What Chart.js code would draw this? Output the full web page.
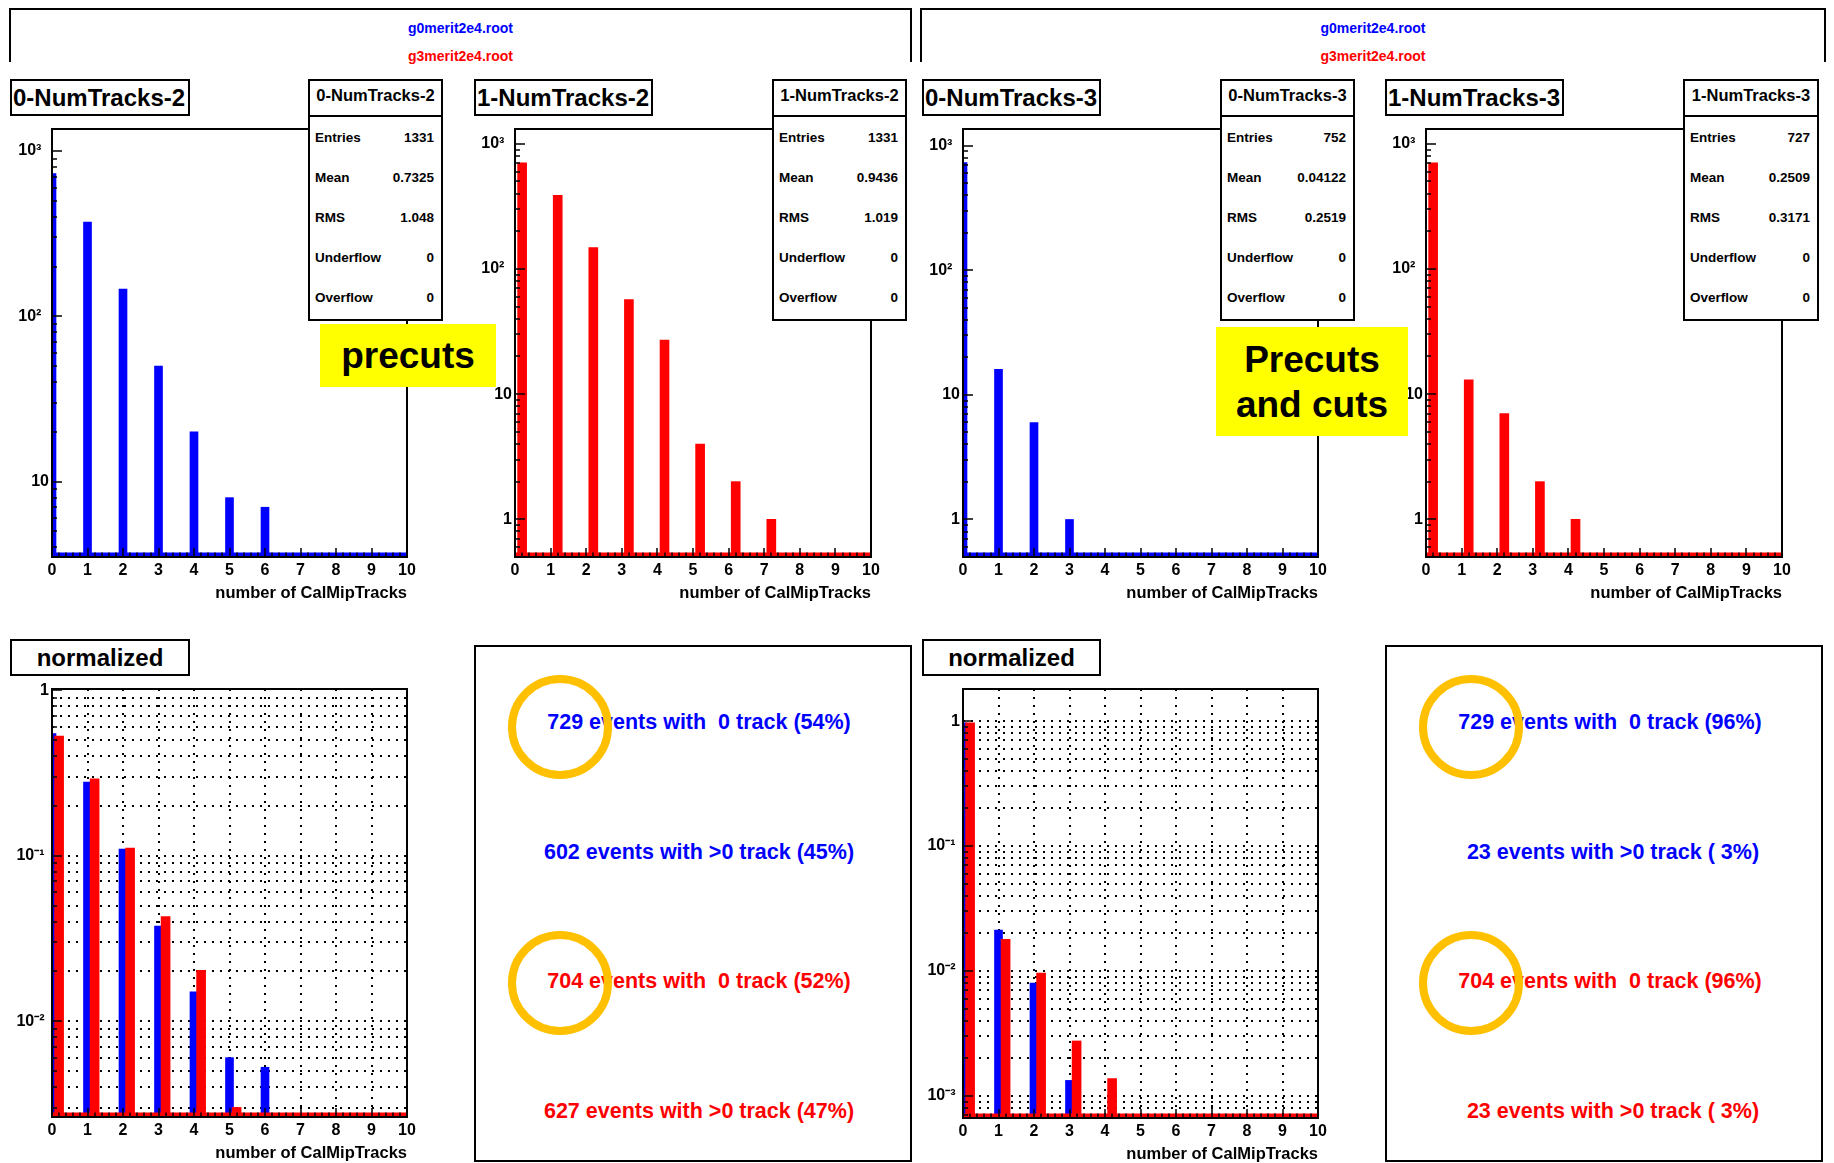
<!DOCTYPE html>
<html>
<head>
<meta charset="utf-8">
<title>CalMipTracks</title>
<script src="https://cdn.jsdelivr.net/npm/chart.js@4.4.1/dist/chart.umd.min.js"></script>
<style>
  html, body { margin: 0; padding: 0; background: #fff; }
  #page { position: relative; width: 1834px; height: 1163px; overflow: hidden; background: #fff;
          font-family: "Liberation Sans", Arial, Helvetica, sans-serif; font-weight: bold; color: #000; }
  .abs { position: absolute; box-sizing: border-box; }
  canvas { position: absolute; }
  .hdr { border: 2px solid #000; border-bottom: none; }
  .hdr div { position: absolute; left: 0; right: 0; text-align: center; font-size: 14px; line-height: 16px; white-space: pre; }
  .title { border: 2px solid #000; background: #fff; font-size: 24px; display: flex; align-items: center; white-space: nowrap; padding-left: 1px; }
  .title.mid { justify-content: center; padding-left: 0; }
  .stats { border: 2px solid #000; background: #fff; }
  .stats .head { height: 36px; border-bottom: 2px solid #000; display: flex; align-items: center; justify-content: center;
                 font-size: 16.5px; padding-bottom: 6px; box-sizing: border-box; white-space: nowrap; }
  .stats .row { height: 40px; display: flex; align-items: center; justify-content: space-between;
                padding: 0 7px 0 5px; font-size: 13.5px; white-space: nowrap; }
  .panel { border: 2px solid #000; background: #fff; }
  .panel .line { position: absolute; white-space: pre; font-size: 21.5px; line-height: 24px; transform: translate(-50%, -50%); }
  .note { background: #ffff00; display: flex; align-items: center; justify-content: center; text-align: center;
          font-size: 37px; line-height: 45px; }
  .ring { border: 8px solid #ffc000; border-radius: 50%; }
</style>
</head>
<body>
<div id="page"></div>
<script>
// ---------------- data ----------------
const trackBins = [0, 1, 2, 3, 4, 5, 6, 7, 8, 9];           // number of CalMipTracks
const g0NumTracks2 = [729, 371, 146, 50, 20, 8, 7, 0, 0, 0];  // g0merit2e4.root
const g3NumTracks2 = [704, 388, 148, 57, 27, 4, 2, 1, 0, 0];  // g3merit2e4.root
const g0NumTracks3 = [729, 16, 6, 1, 0, 0, 0, 0, 0, 0];
const g3NumTracks3 = [704, 13, 7, 2, 1, 0, 0, 0, 0, 0];

const xTickValues = [0, 1, 2, 3, 4, 5, 6, 7, 8, 9, 10];
const xTickLabels = ['0', '1', '2', '3', '4', '5', '6', '7', '8', '9', '10'];
const countTickValues = [1, 10, 100, 1000];
const countTickLabels = ['1', '10', '10\u00B2', '10\u00B3'];
const fracTickValues = [0.001, 0.01, 0.1, 1];
const fracTickLabels = ['10\u207B\u00B3', '10\u207B\u00B2', '10\u207B\u00B9', '1'];

const fileNames = ['g0merit2e4.root', 'g3merit2e4.root'];
const statNames = ['Entries', 'Mean', 'RMS', 'Underflow', 'Overflow'];
const stats0Tracks2 = ['1331', '0.7325', '1.048', '0', '0'];
const stats1Tracks2 = ['1331', '0.9436', '1.019', '0', '0'];
const stats0Tracks3 = ['752', '0.04122', '0.2519', '0', '0'];
const stats1Tracks3 = ['727', '0.2509', '0.3171', '0', '0'];

// ---------------- style ----------------
const FONT = '"Liberation Sans", Arial, Helvetica, sans-serif';
const BLUE = '#0000ff', RED = '#ff0000';
Chart.defaults.font.family = FONT;
Chart.defaults.color = '#000';

const page = document.getElementById('page');

function logTicks(min, max) {
  const out = [];
  for (let e = Math.floor(Math.log10(min)); e <= Math.ceil(Math.log10(max)); e++) {
    for (let m = 1; m <= 9; m++) {
      const v = +(m * Math.pow(10, e)).toPrecision(6);
      if (v >= min * 0.999999 && v <= max * 1.000001) out.push({ value: v, major: m === 1 });
    }
  }
  return out;
}

function lookupLabel(v, values, labels) {
  for (let i = 0; i < values.length; i++) {
    if (Math.abs(v - values[i]) <= values[i] * 1e-6) return labels[i];
  }
  return '';
}

// frame, ticks drawn inside the frame, dotted grid and the empty-bin baseline
const rootFrame = {
  id: 'rootFrame',
  beforeDatasetsDraw(chart, args, o) {
    if (!o.grid) return;
    const { ctx, chartArea: a, scales: { x, y } } = chart;
    ctx.save();
    ctx.strokeStyle = '#000';
    ctx.lineWidth = 2;
    ctx.setLineDash([2, 6]);
    ctx.beginPath();
    for (const t of x.ticks) {
      const px = Math.round(x.getPixelForValue(t.value));
      if (px <= a.left + 1 || px >= a.right - 1) continue;
      ctx.moveTo(px, a.top); ctx.lineTo(px, a.bottom);
    }
    for (const t of y.ticks) {
      const py = Math.round(y.getPixelForValue(t.value));
      if (py <= a.top + 1 || py >= a.bottom - 1) continue;
      ctx.moveTo(a.left, py); ctx.lineTo(a.right, py);
    }
    ctx.stroke();
    ctx.restore();
  },
  afterDatasetsDraw(chart, args, o) {
    const { ctx, chartArea: a, scales: { x, y } } = chart;
    ctx.save();
    ctx.fillStyle = o.baseColor;
    ctx.fillRect(a.left, a.bottom - 4.5, a.right - a.left, 3.5);
    ctx.strokeStyle = '#000';
    ctx.lineWidth = 1.5;
    ctx.beginPath();
    for (let i = 0; i <= 50; i++) {
      const px = Math.round(x.getPixelForValue(x.min + i * (x.max - x.min) / 50));
      const len = i % 5 === 0 ? 9 : 4.5;
      ctx.moveTo(px, a.bottom); ctx.lineTo(px, a.bottom - len);
    }
    for (const t of y.ticks) {
      const py = Math.round(y.getPixelForValue(t.value));
      const len = t.major ? 10 : 5;
      ctx.moveTo(a.left, py); ctx.lineTo(a.left + len, py);
    }
    ctx.stroke();
    ctx.lineWidth = 2;
    ctx.strokeRect(a.left, a.top, a.right - a.left, a.bottom - a.top);
    ctx.restore();
  }
};

function seriesPoints(counts, scale, offset) {
  const pts = [];
  counts.forEach((c, i) => { if (c > 0) pts.push({ x: trackBins[i] + offset, y: c / scale }); });
  return pts;
}

function histPanel(frame, p) {
  const padL = 60, padT = 15, padR = 22, padB = 50;
  const w = frame.r - frame.l + padL + padR;
  const h = frame.b - frame.t + padT + padB;
  const cv = document.createElement('canvas');
  cv.width = w; cv.height = h;
  cv.style.left = (frame.l - padL) + 'px';
  cv.style.top = (frame.t - padT) + 'px';
  cv.style.width = w + 'px';
  cv.style.height = h + 'px';
  page.appendChild(cv);

  const datasets = p.series.map(s => ({
    data: seriesPoints(s.counts, s.scale, s.offset),
    backgroundColor: s.color,
    borderWidth: 0,
    barThickness: s.thickness,
    grouped: false,
    order: s.order
  }));

  new Chart(cv, {
    type: 'bar',
    data: { datasets },
    plugins: [rootFrame],
    options: {
      responsive: false,
      animation: false,
      devicePixelRatio: 1,
      events: [],
      layout: { padding: { left: 0, top: padT, right: padR, bottom: 0 } },
      plugins: {
        legend: { display: false },
        tooltip: { enabled: false },
        rootFrame: { grid: p.grid, baseColor: p.baseColor }
      },
      scales: {
        x: {
          type: 'linear', min: 0, max: 10, offset: false,
          grid: { display: false, drawTicks: false, offset: false },
          border: { display: false },
          afterBuildTicks: s => { s.ticks = xTickValues.map(v => ({ value: v })); },
          afterFit: s => { s.height = padB; },
          ticks: {
            autoSkip: false, maxRotation: 0, padding: 4, color: '#000',
            font: { size: 16, weight: 'bold', family: FONT },
            callback: v => lookupLabel(v, xTickValues, xTickLabels) || String(v)
          },
          title: {
            display: true, text: 'number of CalMipTracks', align: 'end', color: '#000',
            font: { size: 16.5, weight: 'bold', family: FONT },
            padding: { top: 0, bottom: 4 }
          }
        },
        y: {
          type: 'logarithmic', min: p.yMin, max: p.yMax,
          grid: { display: false, drawTicks: false },
          border: { display: false },
          afterBuildTicks: s => { s.ticks = logTicks(p.yMin, p.yMax); },
          afterFit: s => { s.width = padL; },
          ticks: {
            autoSkip: false, padding: 3, color: '#000',
            font: { size: 16, weight: 'bold', family: FONT },
            callback: v => {
              const lab = lookupLabel(v, p.tickValues, p.tickLabels);
              return lab.length > 2 ? lab + p.supPad : lab;
            }
          }
        }
      }
    }
  });
}

function box(cls, x, y, w, h) {
  const d = document.createElement('div');
  d.className = 'abs ' + cls;
  d.style.left = x + 'px'; d.style.top = y + 'px';
  d.style.width = w + 'px'; d.style.height = h + 'px';
  page.appendChild(d);
  return d;
}

function titleBox(x, y, w, text, centered) {
  const d = box('title' + (centered ? ' mid' : ''), x, y, w, 37);
  d.textContent = text;
}

function statsBox(x, w, name, values) {
  const d = box('stats', x, 79, w, 242);
  const head = document.createElement('div');
  head.className = 'head';
  head.textContent = name;
  d.appendChild(head);
  statNames.forEach((n, i) => {
    const r = document.createElement('div');
    r.className = 'row';
    const a = document.createElement('span'); a.textContent = n;
    const b = document.createElement('span'); b.textContent = values[i];
    r.appendChild(a); r.appendChild(b);
    d.appendChild(r);
  });
}

function headerBox(x, w) {
  const d = box('hdr', x, 8, w, 54);
  [[fileNames[0], BLUE, 9.5], [fileNames[1], RED, 37.5]].forEach(([t, c, top]) => {
    const s = document.createElement('div');
    s.textContent = t; s.style.color = c; s.style.top = top + 'px';
    d.appendChild(s);
  });
}

function summaryPanel(x, g0, g3) {
  const d = box('panel', x, 645, 438, 517);
  const lines = [];
  [[g0, BLUE], [g3, RED]].forEach(([counts, color]) => {
    const total = counts.reduce((s, v) => s + v, 0);
    const zero = counts[0], more = total - zero;
    const pct = n => String(Math.floor(100 * n / total)).padStart(2, ' ');
    lines.push([String(zero).padStart(3, ' ') + ' events with  0 track (' + pct(zero) + '%)', color]);
    lines.push([String(more).padStart(3, ' ') + ' events with >0 track (' + pct(more) + '%)', color]);
  });
  lines.forEach(([t, c], i) => {
    const s = document.createElement('div');
    s.className = 'line';
    s.textContent = t;
    s.style.color = c;
    s.style.left = '223px';
    s.style.top = (75 + i * 129.7) + 'px';
    d.appendChild(s);
  });
  [727, 982.5].forEach(cy => box('ring', x + 86 - 52, cy - 52, 104, 104));
}

function note(x, y, w, h, html) {
  const d = box('note', x, y, w, h);
  d.innerHTML = html;
}

// ---------------- panels ----------------
const sum = a => a.reduce((s, v) => s + v, 0);

const countAxis = { tickValues: countTickValues, tickLabels: countTickLabels, supPad: ' \u2009' };
const fracAxis = { tickValues: fracTickValues, tickLabels: fracTickLabels, supPad: ' ' };

// NumTracks-2 (left column)
histPanel({ l: 52, t: 129, r: 407, b: 557 }, Object.assign({
  yMin: 3.5, yMax: 1358, grid: false, baseColor: BLUE,
  series: [{ counts: g0NumTracks2, scale: 1, offset: 0, color: BLUE, thickness: 8, order: 0 }]
}, countAxis));
histPanel({ l: 515, t: 129, r: 871, b: 557 }, Object.assign({
  yMin: 0.5, yMax: 1313, grid: false, baseColor: RED,
  series: [{ counts: g3NumTracks2, scale: 1, offset: 0.2, color: RED, thickness: 9, order: 0 }]
}, countAxis));
histPanel({ l: 52, t: 689, r: 407, b: 1117 }, Object.assign({
  yMin: 0.00263, yMax: 1.02, grid: true, baseColor: RED,
  series: [
    { counts: g0NumTracks2, scale: sum(g0NumTracks2), offset: 0, color: BLUE, thickness: 8, order: 1 },
    { counts: g3NumTracks2, scale: sum(g3NumTracks2), offset: 0.2, color: RED, thickness: 9, order: 0 }
  ]
}, fracAxis));

// NumTracks-3 (right column)
histPanel({ l: 963, t: 129, r: 1318, b: 557 }, Object.assign({
  yMin: 0.5, yMax: 1358, grid: false, baseColor: BLUE,
  series: [{ counts: g0NumTracks3, scale: 1, offset: 0, color: BLUE, thickness: 8, order: 0 }]
}, countAxis));
histPanel({ l: 1426, t: 129, r: 1782, b: 557 }, Object.assign({
  yMin: 0.5, yMax: 1313, grid: false, baseColor: RED,
  series: [{ counts: g3NumTracks3, scale: 1, offset: 0.2, color: RED, thickness: 9, order: 0 }]
}, countAxis));
histPanel({ l: 963, t: 689, r: 1318, b: 1118 }, Object.assign({
  yMin: 0.000665, yMax: 1.808, grid: true, baseColor: RED,
  series: [
    { counts: g0NumTracks3, scale: sum(g0NumTracks3), offset: 0, color: BLUE, thickness: 8, order: 1 },
    { counts: g3NumTracks3, scale: sum(g3NumTracks3), offset: 0.2, color: RED, thickness: 9, order: 0 }
  ]
}, fracAxis));

// headers, titles, statistics boxes
headerBox(9, 903);
headerBox(920, 906);

titleBox(10, 79, 180, '0-NumTracks-2');
titleBox(474, 79, 179, '1-NumTracks-2');
titleBox(922, 79, 179, '0-NumTracks-3');
titleBox(1385, 79, 179, '1-NumTracks-3');
titleBox(10, 639, 180, 'normalized', true);
titleBox(922, 639, 179, 'normalized', true);

statsBox(308, 135, '0-NumTracks-2', stats0Tracks2);
statsBox(772, 135, '1-NumTracks-2', stats1Tracks2);
statsBox(1220, 135, '0-NumTracks-3', stats0Tracks3);
statsBox(1683, 136, '1-NumTracks-3', stats1Tracks3);

summaryPanel(474, g0NumTracks2, g3NumTracks2);
summaryPanel(1385, g0NumTracks3, g3NumTracks3);

note(320, 324, 176, 63, 'precuts');
note(1216, 327, 192, 109, 'Precuts<br>and cuts');
</script>
</body>
</html>
